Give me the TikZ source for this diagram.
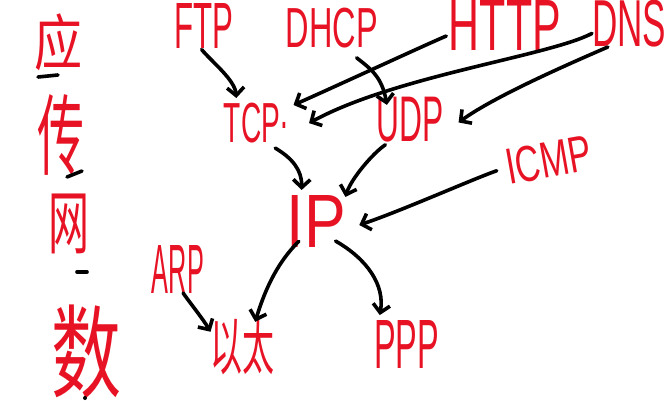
\documentclass[tikz,border=0pt]{standalone}
\usepackage{fontspec}
\usepackage{graphicx}
\setmainfont{Liberation Sans}
\newfontfamily\cjk{Noto Sans CJK SC}
\usetikzlibrary{arrows.meta}
\definecolor{ink}{RGB}{231,18,36}
\tikzset{
  lbl/.style={inner sep=0pt, outer sep=0pt, text=ink, anchor=center},
  arr/.style={draw=black, line width=3.6pt, line cap=round, line join=round,
    -{Straight Barb[length=8pt,width=17pt]}},
  dashmark/.style={draw=black, line width=3.6pt, line cap=round}
}
\newcommand{\fit}[3]{\resizebox*{#1}{#2}{#3}}
\begin{document}
\begin{tikzpicture}[x=1pt,y=-1pt]
\fill[white] (0,0) rectangle (669,401);
\useasboundingbox (0,0) rectangle (669,401);

% left column
\node[lbl, minimum width=48pt, minimum height=57pt] (ying) at (58.5,42) {\fit{48pt}{57pt}{\cjk 应}};
\node[lbl, minimum width=47pt, minimum height=81pt] (chuan) at (61,135.5) {\fit{47pt}{81pt}{\cjk 传}};
\node[lbl, minimum width=41pt, minimum height=60pt] (wang) at (68.5,223.5) {\fit{41pt}{60pt}{\cjk 网}};
\node[lbl, minimum width=70pt, minimum height=94pt] (shu) at (86.5,352) {\fit{70pt}{94pt}{\cjk 数}};
\draw[dashmark] (38,77) -- (58,75);
\draw[dashmark] (67,177) -- (82,171);
\draw[dashmark] (77,272) -- (87,272);
\fill[black] (85,398) circle (2pt);

% protocol nodes
\node[lbl, minimum width=57pt, minimum height=45pt] (ftp) at (203.5,25.5) {\fit{59pt}{45pt}{FTP}};
\node[lbl, minimum width=90pt, minimum height=40pt] (dhcp) at (332,28) {\fit{92pt}{40pt}{DHCP}};
\node[lbl, minimum width=110pt, minimum height=50pt] (http) at (505,25) {\fit{112pt}{50pt}{HTTP}};
\node[lbl, minimum width=72pt, minimum height=47pt] (dns) at (629,23.5) {\fit{74pt}{47pt}{DNS}};
\node[lbl, minimum width=62pt, minimum height=40pt] (tcp) at (256,123) {\fit{64pt}{40pt}{TCP\raisebox{0.25em}{.}}};
\node[lbl, minimum width=65pt, minimum height=45pt] (udp) at (410.5,119.5) {\fit{67pt}{45pt}{UDP}};
\node[lbl, minimum width=57pt, minimum height=52pt] (ip) at (316.5,221) {\fit{59pt}{52pt}{IP}};
\node[lbl, minimum width=84pt, minimum height=36pt, rotate=10] (icmp) at (548.5,160) {\fit{86pt}{36pt}{ICMP}};
\node[lbl, minimum width=50pt, minimum height=48pt] (arp) at (178,269) {\fit{52pt}{48pt}{ARP}};
\node[lbl, minimum width=64pt, minimum height=58pt] (eth) at (242.5,346) {\fit{64pt}{58pt}{\cjk 以太}};
\node[lbl, minimum width=63pt, minimum height=48pt] (ppp) at (406.5,344) {\fit{65pt}{48pt}{PPP}};

% connectors
\draw[arr, shorten <=2pt, shorten >=5pt] (ftp.-98) .. controls (212,62) and (235,80) .. (tcp.134);
\draw[arr, shorten <=3pt, shorten >=6pt] (http.190) .. controls (425,45) and (330,89) .. (tcp.26);
\draw[arr, shorten >=24pt] (dns.195) .. controls (549,56) and (395,76) .. (tcp.-20);
\draw[arr, shorten <=16pt, shorten >=-8pt] (dhcp.-59) .. controls (371,69) and (382,77) .. (udp.138);
\draw[arr, shorten >=18pt] (dns.228) .. controls (571,63) and (495,96) .. (udp.-22);
\draw[arr, shorten <=10pt, shorten >=5pt] (tcp.-62) .. controls (292,158) and (302,170) .. (ip.120);
\draw[arr, shorten <=5pt, shorten >=-2pt] (udp.227) .. controls (373,153) and (351,179) .. (ip.north east);
\draw[arr, shorten <=10pt, shorten >=14pt] (icmp.west) .. controls (473,179) and (401,211) .. (ip.-16);
\draw[arr, shorten <=-8pt, shorten >=-5pt] (ip.-132) .. controls (279,261) and (266,286) .. (eth.64);
\draw[arr, shorten <=-12pt, shorten >=5pt] (ip.south east) .. controls (367,259) and (385,285) .. (ppp.139);
\draw[arr] (arp.-78) .. controls (193,307) and (203,319) .. (eth.156);
\end{tikzpicture}
\end{document}
